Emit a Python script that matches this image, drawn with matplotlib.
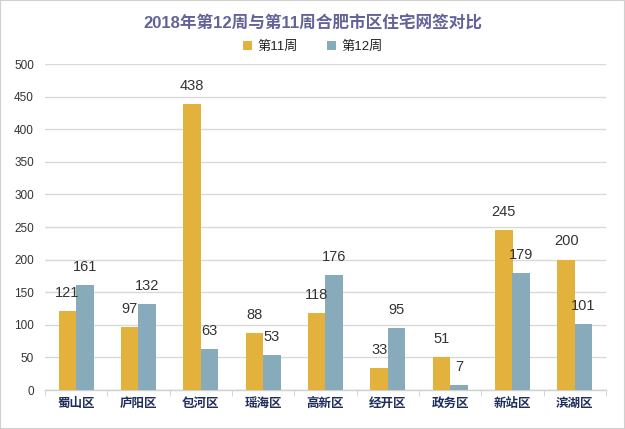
import matplotlib
matplotlib.use("Agg")
import matplotlib.pyplot as plt
import numpy as np
from matplotlib.patches import Rectangle

plt.rcParams['font.family'] = ['Liberation Sans', 'Noto Sans CJK SC', 'DejaVu Sans']

categories = ['蜀山区', '庐阳区', '包河区', '瑶海区', '高新区', '经开区', '政务区', '新站区', '滨湖区']
week11 = [121, 97, 438, 88, 118, 33, 51, 245, 200]
week12 = [161, 132, 63, 53, 176, 95, 7, 179, 101]
series_names = ['第11周', '第12周']
title = '2018年第12周与第11周合肥市区住宅网签对比'
yticks = [0, 50, 100, 150, 200, 250, 300, 350, 400, 450, 500]

c11 = '#E3B23D'
c12 = '#87ABBB'

fig = plt.figure(figsize=(6.25, 4.29), dpi=100)
fig.patches.append(Rectangle((0, 0), 1, 1, transform=fig.transFigure, fill=False,
                             edgecolor='#D0D0D0', linewidth=1.5))
ax = fig.add_axes([0.072, 0.0909, 0.8976, 0.7599])

x = np.arange(len(categories))
w = 0.28
b1 = ax.bar(x - w/2, week11, w, color=c11, label=series_names[0], zorder=3)
b2 = ax.bar(x + w/2, week12, w, color=c12, label=series_names[1], zorder=3)

for rects, vals in ((b1, week11), (b2, week12)):
    for r, v in zip(rects, vals):
        ax.annotate(str(v), (r.get_x() + r.get_width()/2, v), xytext=(0, 8),
                    textcoords='offset points', ha='center', va='bottom',
                    fontsize=10.5, color='#333333')

ax.set_xlim(-0.5, len(categories) - 0.5)
ax.set_ylim(0, 500)
ax.set_yticks(yticks)
ax.yaxis.grid(True, color='#D9D9D9', linewidth=1, zorder=0)
ax.set_axisbelow(True)
for s in ['top', 'right', 'left']:
    ax.spines[s].set_visible(False)
ax.spines['bottom'].set_color('#D0D0D0')
ax.spines['bottom'].set_linewidth(1)
ax.tick_params(axis='y', length=0, labelsize=8.5, labelcolor='#333333', pad=8)
ax.set_xticks(x)
ax.set_xticklabels(categories, fontsize=9, fontweight='bold', color='#1F2D5A')
ax.tick_params(axis='x', length=0, pad=6)
ax.set_xticks(np.arange(-0.5, len(categories)), minor=True)
ax.tick_params(axis='x', which='minor', length=4, color='#D0D0D0')

fig.text(0.5, 0.945, title, ha='center', va='center', fontsize=12,
         fontweight='bold', color='#63639A')
leg = fig.legend(handles=[b1, b2], labels=series_names, loc='center',
                 bbox_to_anchor=(0.5, 0.89), ncol=2, frameon=False, fontsize=9.5,
                 handlelength=0.7, handleheight=0.7, columnspacing=2.2, handletextpad=0.4)
for t in leg.get_texts():
    t.set_color('#222222')

fig.savefig('out.png', dpi=100)
